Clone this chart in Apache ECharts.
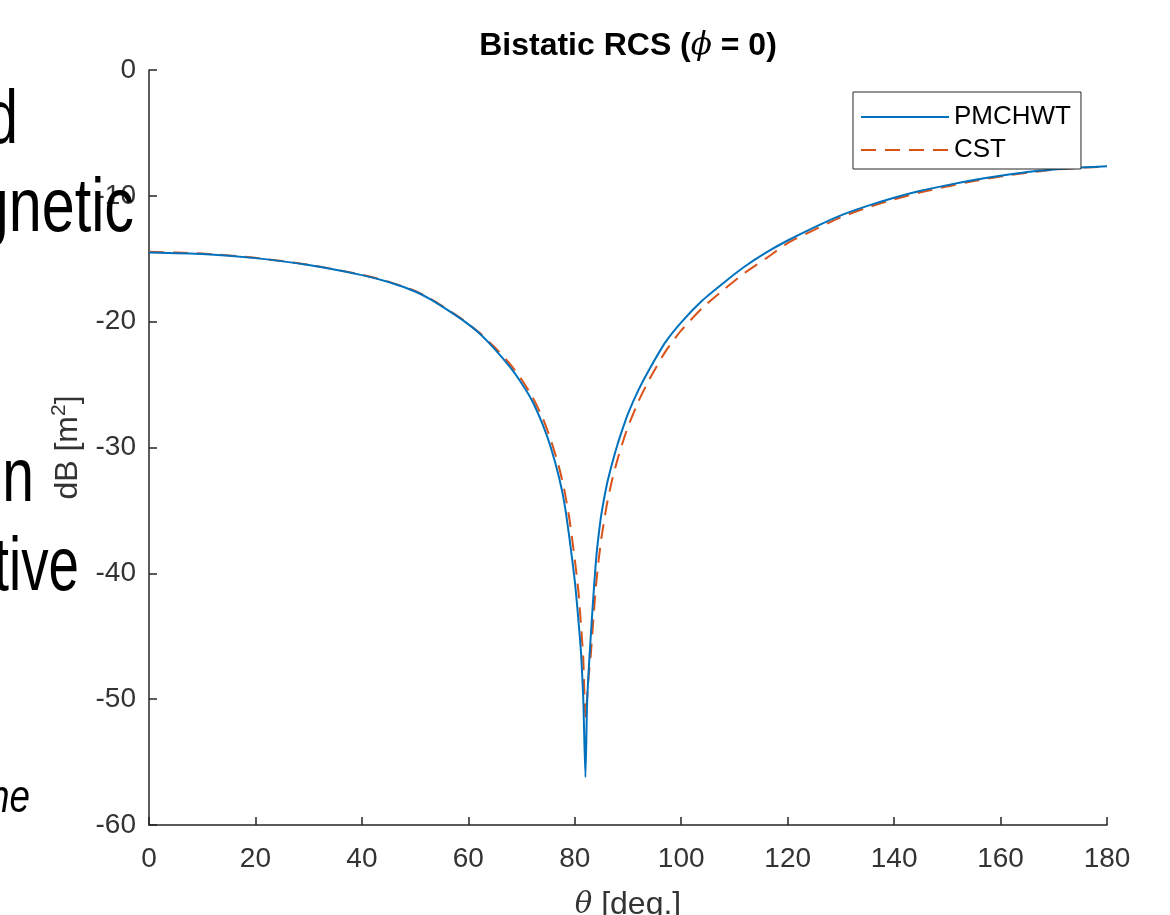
<!DOCTYPE html>
<html>
<head>
<meta charset="utf-8">
<script src="https://cdn.jsdelivr.net/npm/echarts@6/dist/echarts.min.js"></script>
<style>
html,body{margin:0;padding:0;background:#fff;}
#chart{width:1170px;height:915px;}
</style>
</head>
<body>
<div id="chart"></div>
<script>
// ---- data ----
var theta = [0, 10, 20, 30, 40, 45, 50, 53, 56, 59, 62, 65, 68, 70, 72, 74, 75.5, 77, 78, 79, 80, 80.7, 81.2, 81.6, 82, 82.3, 82.6, 83, 83.5, 84, 84.5, 85, 86, 87, 88, 89, 90, 92, 94, 97, 100, 104, 108, 112, 116, 120, 125, 130, 135, 140, 145, 150, 155, 160, 165, 170, 175, 180];
var pmchwt = [-14.5, -14.62, -14.95, -15.5, -16.3, -16.85, -17.6, -18.25, -19.05, -19.9, -20.9, -22.2, -23.7, -24.9, -26.3, -28.2, -30.0, -32.3, -34.3, -37.2, -40.6, -43.8, -46.5, -50.0, -56.2, -50.5, -47.8, -45.0, -41.8, -38.9, -36.9, -35.3, -33.0, -31.3, -29.8, -28.5, -27.3, -25.4, -23.8, -21.65, -20.05, -18.3, -16.9, -15.6, -14.5, -13.55, -12.5, -11.55, -10.8, -10.15, -9.6, -9.15, -8.75, -8.4, -8.1, -7.9, -7.75, -7.65];
var cst = [-14.45, -14.58, -14.93, -15.47, -16.27, -16.82, -17.56, -18.2, -19.0, -19.85, -20.85, -22.05, -23.45, -24.6, -25.95, -27.7, -29.4, -31.5, -33.3, -35.7, -38.9, -41.5, -44.3, -46.8, -51.4, -50.0, -48.2, -46.5, -43.6, -40.9, -38.9, -37.2, -34.6, -32.6, -31.0, -29.6, -28.35, -26.3, -24.6, -22.4, -20.7, -18.9, -17.45, -16.1, -14.95, -13.75, -12.7, -11.7, -10.93, -10.28, -9.72, -9.25, -8.83, -8.47, -8.16, -7.93, -7.77, -7.68];
var seriesNames = ['PMCHWT', 'CST'];
var xTicks = {min: 0, max: 180, step: 20};
var yTicks = {min: -60, max: 0, step: 10};
var slideText = ['d', 'gnetic', 'on', 'tive', 'ne'];

function pairs(xs, ys) { return xs.map(function (x, i) { return [x, ys[i]]; }); }

var chart = echarts.init(document.getElementById('chart'), null, {renderer: 'canvas'});
var axisColor = '#262626';
var labelColor = '#333333';
var font = 'Liberation Sans, Arial, Helvetica, sans-serif';
var slideFont = 'Liberation Sans, Arial, sans-serif';
var serif = 'DejaVu Serif, Liberation Serif, serif';

function slide(txt, x, y, size, italic, sx) {
  return {type: 'text', x: x, y: y, z: 100, scaleX: sx,
    style: {text: txt, fill: '#000', font: (italic ? 'italic ' : '') + size + 'px ' + slideFont,
      textAlign: 'right', textVerticalAlign: 'bottom'}};
}

var option = {
  backgroundColor: '#ffffff',
  animation: false,
  grid: {left: 149, right: 63, top: 70, bottom: 90, containLabel: false, outerBoundsMode: 'none'},
  legend: {
    data: seriesNames,
    orient: 'vertical',
    left: 853, top: 92,
    padding: [12, 10, 6, 7],
    itemGap: 7,
    itemWidth: 88, itemHeight: 14,
    borderColor: axisColor, borderWidth: 1,
    backgroundColor: '#ffffff',
    itemStyle: {opacity: 0},
    textStyle: {fontFamily: font, fontSize: 26, color: '#000', lineHeight: 26}
  },
  xAxis: {
    type: 'value', min: xTicks.min, max: xTicks.max, interval: xTicks.step,
    axisLine: {show: true, onZero: false, lineStyle: {color: axisColor, width: 1.5}},
    axisTick: {show: true, inside: true, length: 8, lineStyle: {color: axisColor, width: 1.5}},
    axisLabel: {color: labelColor, fontFamily: font, fontSize: 28, margin: 20, showMinLabel: true, showMaxLabel: true},
    splitLine: {show: false},
    name: '{it|θ} [deg.]', nameLocation: 'middle', nameGap: 64,
    nameTextStyle: {color: labelColor, fontFamily: font, fontSize: 32,
      rich: {it: {fontFamily: serif, fontStyle: 'italic', fontSize: 29, color: labelColor}}}
  },
  yAxis: {
    type: 'value', min: yTicks.min, max: yTicks.max, interval: yTicks.step,
    axisLine: {show: true, onZero: false, lineStyle: {color: axisColor, width: 1.5}},
    axisTick: {show: true, inside: true, length: 8, lineStyle: {color: axisColor, width: 1.5}},
    axisLabel: {color: labelColor, fontFamily: font, fontSize: 28, margin: 13, showMinLabel: true, showMaxLabel: true},
    splitLine: {show: false},
    name: 'dB [m{sup|2}]', nameLocation: 'middle', nameRotate: 90, nameGap: 60,
    nameTextStyle: {color: labelColor, fontFamily: font, fontSize: 32,
      rich: {sup: {fontFamily: font, fontSize: 21, color: labelColor, padding: [0, 0, 18, 0]}}}
  },
  graphic: [
    {type: 'text', x: 628, y: 46, z: 100,
      style: {text: '{b|Bistatic RCS (}{p|ϕ}{b| = 0)}', fill: '#000', align: 'center', verticalAlign: 'middle',
        rich: {b: {fontFamily: font, fontWeight: 'bold', fontSize: 32, fill: '#000'},
               p: {fontFamily: serif, fontStyle: 'italic', fontSize: 31, fill: '#000'}}}},
    slide(slideText[0], 18, 160, 76, false, 0.75),
    slide(slideText[1], 134, 248, 76, false, 0.78),
    slide(slideText[2], 34, 518, 76, false, 0.75),
    slide(slideText[3], 79, 607, 76, false, 0.72),
    slide(slideText[4], 30, 822, 46, true, 0.8)
  ],
  series: [
    {name: seriesNames[0], type: 'line', data: pairs(theta, pmchwt), showSymbol: false, symbol: 'none',
      smooth: 0.2,
      lineStyle: {color: '#0072BD', width: 2}, itemStyle: {color: '#0072BD'}, z: 3},
    {name: seriesNames[1], type: 'line', data: pairs(theta, cst), showSymbol: false, symbol: 'none',
      smooth: 0.2,
      lineStyle: {color: '#D95319', width: 2, type: [15, 9]}, itemStyle: {color: '#D95319'}, z: 2}
  ]
};
chart.setOption(option);
</script>
</body>
</html>
